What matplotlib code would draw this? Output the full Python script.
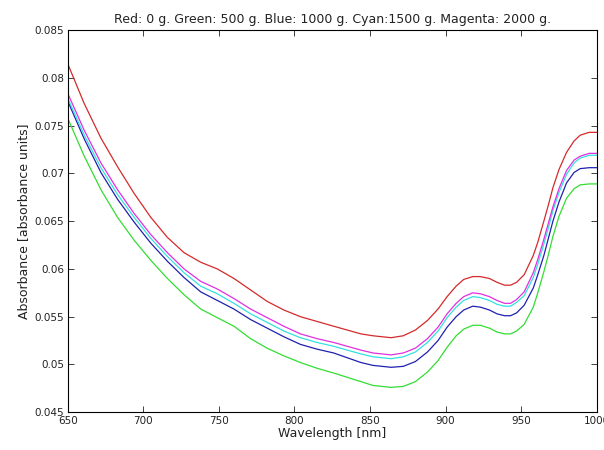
import numpy as np
import matplotlib
matplotlib.use('Agg')
import matplotlib.pyplot as plt

plt.rcParams['font.family'] = ['DejaVu Sans']

wavelength = [650, 661, 672, 683, 694, 705, 716, 727, 738, 749, 760, 771, 782, 793,
              804, 815, 826, 844, 852, 864, 872, 880, 888, 895, 901, 907, 912, 918,
              923, 929, 934, 939, 943, 947, 952, 958, 961, 965, 968, 971, 975, 980,
              985, 989, 995, 1000]

red = [0.0815, 0.0773, 0.0737, 0.0707, 0.0679, 0.0654, 0.0633, 0.0617, 0.0607, 0.0600,
       0.0590, 0.0578, 0.0566, 0.0557, 0.0550, 0.0545, 0.0540, 0.0532, 0.0530, 0.0528,
       0.0530, 0.0536, 0.0546, 0.0558, 0.0571, 0.0582, 0.0589, 0.0592, 0.0592, 0.0590,
       0.0586, 0.0583, 0.0583, 0.0586, 0.0594, 0.0614, 0.0628, 0.0650, 0.0667, 0.0685,
       0.0704, 0.0722, 0.0734, 0.0740, 0.0743, 0.0743]
green = [0.0758, 0.0718, 0.0683, 0.0654, 0.0630, 0.0609, 0.0590, 0.0573, 0.0558, 0.0549,
         0.0540, 0.0527, 0.0517, 0.0509, 0.0502, 0.0496, 0.0491, 0.0482, 0.0478, 0.0476,
         0.0477, 0.0482, 0.0492, 0.0504, 0.0518, 0.0530, 0.0537, 0.0541, 0.0541, 0.0538,
         0.0534, 0.0532, 0.0532, 0.0535, 0.0542, 0.0560, 0.0575, 0.0597, 0.0615, 0.0634,
         0.0655, 0.0674, 0.0684, 0.0688, 0.0689, 0.0689]
blue = [0.0776, 0.0736, 0.0701, 0.0673, 0.0649, 0.0627, 0.0608, 0.0591, 0.0576, 0.0567,
        0.0558, 0.0547, 0.0538, 0.0529, 0.0521, 0.0516, 0.0512, 0.0502, 0.0499, 0.0497,
        0.0498, 0.0503, 0.0513, 0.0525, 0.0539, 0.0550, 0.0557, 0.0561, 0.0560, 0.0557,
        0.0553, 0.0551, 0.0551, 0.0554, 0.0562, 0.0580, 0.0594, 0.0614, 0.0632, 0.0650,
        0.0670, 0.0690, 0.0701, 0.0705, 0.0706, 0.0706]
cyan = [0.0779, 0.0740, 0.0706, 0.0678, 0.0654, 0.0632, 0.0613, 0.0596, 0.0582, 0.0574,
        0.0564, 0.0553, 0.0544, 0.0535, 0.0528, 0.0523, 0.0519, 0.0511, 0.0508, 0.0506,
        0.0508, 0.0513, 0.0523, 0.0535, 0.0549, 0.0560, 0.0567, 0.0571, 0.0570, 0.0567,
        0.0563, 0.0561, 0.0561, 0.0565, 0.0572, 0.0591, 0.0605, 0.0626, 0.0643, 0.0661,
        0.0680, 0.0699, 0.0711, 0.0716, 0.0719, 0.0719]
magenta = [0.0784, 0.0745, 0.0711, 0.0683, 0.0658, 0.0636, 0.0617, 0.0600, 0.0587, 0.0579,
           0.0569, 0.0558, 0.0549, 0.0540, 0.0532, 0.0527, 0.0523, 0.0515, 0.0512, 0.0510,
           0.0512, 0.0517, 0.0527, 0.0539, 0.0553, 0.0564, 0.0571, 0.0575, 0.0574, 0.0571,
           0.0567, 0.0564, 0.0564, 0.0568, 0.0576, 0.0596, 0.0610, 0.0631, 0.0648, 0.0665,
           0.0684, 0.0703, 0.0714, 0.0718, 0.0721, 0.0721]

xticks = [650, 700, 750, 800, 850, 900, 950, 1000]
yticks = [0.045, 0.05, 0.055, 0.06, 0.065, 0.07, 0.075, 0.08, 0.085]
ytick_labels = ['0.045', '0.05', '0.055', '0.06', '0.065', '0.07', '0.075', '0.08', '0.085']

fig = plt.figure(figsize=(6.04, 4.5), dpi=100)
ax = fig.add_axes([0.112, 0.084, 0.876, 0.849])

ax.plot(wavelength, red, color='#d42a2a', lw=0.9)
ax.plot(wavelength, green, color='#33dd33', lw=0.9)
ax.plot(wavelength, blue, color='#2020b0', lw=0.9)
ax.plot(wavelength, cyan, color='#33e0e0', lw=0.9)
ax.plot(wavelength, magenta, color='#e030e0', lw=0.9)

ax.set_xlim(650, 1000)
ax.set_ylim(0.045, 0.085)
ax.set_xticks(xticks)
ax.set_yticks(yticks)
ax.set_yticklabels(ytick_labels)
ax.tick_params(direction='in', top=True, right=True, labelsize=7.5, length=4,
               width=0.6, colors='#222222', pad=2.5)
for s in ax.spines.values():
    s.set_linewidth(0.8)

ax.set_title('Red: 0 g. Green: 500 g. Blue: 1000 g. Cyan:1500 g. Magenta: 2000 g.',
             fontsize=9, pad=5, color='#222222')
ax.set_xlabel('Wavelength [nm]', fontsize=9, labelpad=1, color='#222222')
ax.set_ylabel('Absorbance [absorbance units]', fontsize=9, labelpad=3, color='#222222')

plt.savefig('out.png', dpi=100)
